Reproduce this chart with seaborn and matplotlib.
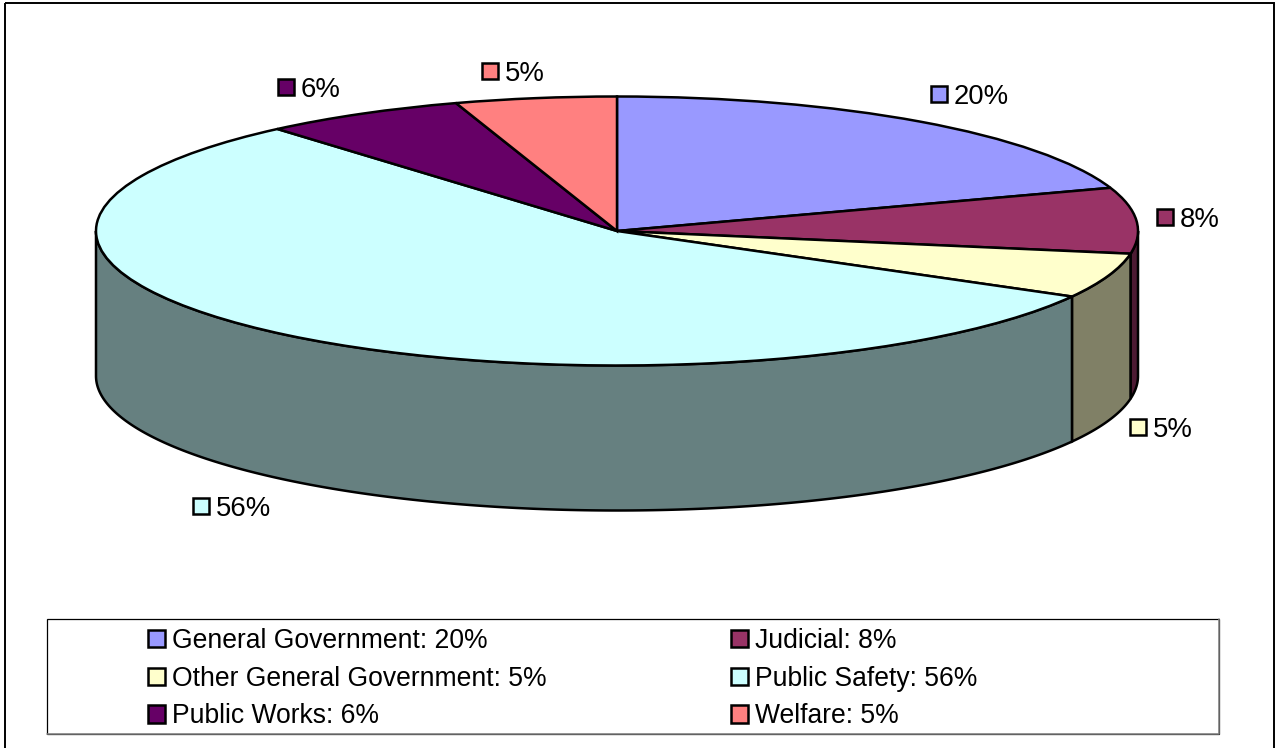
import numpy as np
import matplotlib
matplotlib.use("Agg")
import matplotlib.pyplot as plt
import matplotlib.patches as patches
from matplotlib.colors import to_rgb
import seaborn as sns

categories = ["General Government", "Judicial", "Other General Government",
              "Public Safety", "Public Works", "Welfare"]
shares = [19.8, 7.9, 5.4, 55.6, 6.3, 5.0]
slice_colors = ["#9999FF", "#993366", "#FFFFCC", "#CCFFFF", "#660066", "#FF8080"]

# where the data labels sit (key square left/top, in pixels)
label_pos = [(931, 86), (1157, 209), (1130, 419), (193, 498), (278, 79), (482, 63)]

W, H = 1276, 748
cx, cy, rx, ry = 617, 231, 521, 134.5
depth = 145 / ry
font_size = 19.8
legend_size = 19.1
line_w = 1.8

sns.set_theme(style="white")
plt.rcParams['font.family'] = ['Liberation Sans', 'DejaVu Sans']
palette = sns.color_palette(slice_colors)

fig = plt.figure(figsize=(W / 100, H / 100), dpi=100)
ax = fig.add_axes([0, 0, 1, 1])

ax.pie(shares, colors=palette, startangle=90, counterclock=False, radius=1,
       wedgeprops=dict(edgecolor="black", linewidth=line_w), normalize=True)
ax.set_aspect("auto")
ax.set_xlim((0 - cx) / rx, (W - cx) / rx)
ax.set_ylim((cy - H) / ry, cy / ry)

# side walls, only the part of the rim facing us
edges = np.concatenate([[0], np.cumsum(shares)]) / sum(shares) * 360
for i in range(len(shares)):
    a = max(edges[i], 90)
    b = min(edges[i + 1], 270)
    if a >= b:
        continue
    t = np.radians(np.linspace(a, b, 200))
    xs = np.concatenate([np.sin(t), np.sin(t[::-1])])
    ys = np.concatenate([np.cos(t), np.cos(t[::-1]) - depth])
    ax.fill(xs, ys, facecolor=np.array(to_rgb(slice_colors[i])) * 0.5,
            edgecolor="black", linewidth=line_w, zorder=0)

# overlay in pixel coordinates for the labels, border and legend
ov = fig.add_axes([0, 0, 1, 1])
ov.set_xlim(0, W)
ov.set_ylim(H, 0)
ov.axis("off")
ov.patch.set_alpha(0)

ov.add_patch(patches.Rectangle((5, 3), 1269, 800, fill=False, edgecolor="black", linewidth=1.4))

for i, (x, y) in enumerate(label_pos):
    ov.add_patch(patches.Rectangle((x, y), 16, 16, facecolor=slice_colors[i], edgecolor="black", linewidth=line_w))
    ov.text(x + 23, y + 7.5, f"{shares[i]:.0f}%", fontsize=font_size, va="center_baseline", ha="left", color="black")

# legend box
ov.add_patch(patches.Rectangle((47, 619), 1172, 115, facecolor="white", edgecolor="black", linewidth=0.9))
ov.plot([1219, 1219, 47], [619, 734, 734], color="#808080", linewidth=1.1)

handles = [patches.Patch(facecolor=c, edgecolor="black", linewidth=line_w) for c in slice_colors]
labels = [f"{n}: {v:.0f}%" for n, v in zip(categories, shares)]
# legend fills by column, the chart reads by row
order = [0, 2, 4, 1, 3, 5]
ov.legend([handles[i] for i in order], [labels[i] for i in order], ncol=2,
          loc="upper left", bbox_to_anchor=(148, 628), bbox_transform=ov.transData,
          frameon=False, fontsize=legend_size, labelcolor="black", borderpad=0, borderaxespad=0,
          handlelength=0.64, handleheight=0.64, handletextpad=0.26,
          labelspacing=0.44, columnspacing=6.96)

fig.savefig("out.png", dpi=100)
